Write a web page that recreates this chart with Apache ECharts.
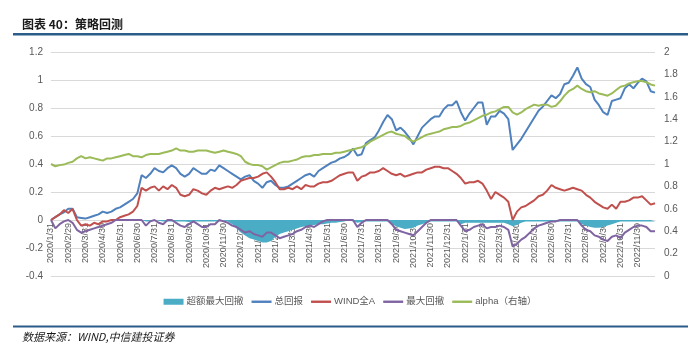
<!DOCTYPE html>
<html>
<head>
<meta charset="utf-8">
<script src="https://cdn.jsdelivr.net/npm/echarts@6/dist/echarts.min.js"></script>
<style>
html,body{margin:0;padding:0;background:#fff;}
#chart{width:700px;height:355px;}
</style>
</head>
<body>
<div id="chart"></div>
<script>
// Month-end tick labels
const monthLabels = [
  '2020/1/31','2020/2/29','2020/3/31','2020/4/30','2020/5/31','2020/6/30','2020/7/31','2020/8/31','2020/9/30','2020/10/31','2020/11/30','2020/12/31',
  '2021/1/31','2021/2/28','2021/3/31','2021/4/30','2021/5/31','2021/6/30','2021/7/31','2021/8/31','2021/9/30','2021/10/31','2021/11/30','2021/12/31',
  '2022/1/31','2022/2/28','2022/3/31','2022/4/30','2022/5/31','2022/6/30','2022/7/31','2022/8/31','2022/9/30','2022/10/31','2022/11/30'
];

// 总回报 (left axis)
const totalReturn = [
  0.00,0.02,0.04,0.055,0.08,0.08,0.02,0.015,0.01,0.02,0.03,0.04,
  0.06,0.05,0.06,0.08,0.09,0.11,0.13,0.15,0.19,0.32,0.30,0.33,
  0.37,0.35,0.34,0.37,0.39,0.37,0.33,0.31,0.33,0.37,0.35,0.33,
  0.33,0.36,0.35,0.39,0.37,0.35,0.33,0.31,0.29,0.31,0.32,0.28,
  0.26,0.23,0.27,0.28,0.25,0.23,0.23,0.24,0.26,0.28,0.30,0.32,
  0.33,0.31,0.35,0.37,0.39,0.41,0.42,0.44,0.45,0.47,0.51,0.46,
  0.47,0.55,0.57,0.59,0.64,0.70,0.75,0.72,0.64,0.66,0.63,0.59,
  0.54,0.60,0.66,0.69,0.72,0.74,0.74,0.79,0.82,0.82,0.85,0.77,
  0.71,0.76,0.80,0.84,0.84,0.68,0.74,0.74,0.78,0.76,0.72,0.50,
  0.54,0.58,0.63,0.68,0.73,0.78,0.81,0.85,0.89,0.87,0.90,0.97,
  0.98,1.03,1.09,1.01,0.97,0.95,0.86,0.82,0.77,0.75,0.85,0.86,
  0.87,0.94,0.97,0.94,0.98,1.01,0.99,0.92,0.91
];

// WIND全A (left axis)
const windA = [
  0.00,0.02,0.04,0.07,0.05,0.08,0.00,-0.04,-0.03,-0.04,-0.02,-0.03,
  -0.01,-0.01,0.00,0.00,0.02,0.03,0.04,0.06,0.10,0.23,0.21,0.23,
  0.24,0.21,0.24,0.22,0.25,0.23,0.18,0.17,0.18,0.22,0.21,0.19,
  0.18,0.21,0.23,0.22,0.23,0.24,0.23,0.25,0.28,0.29,0.30,0.30,
  0.31,0.33,0.34,0.31,0.27,0.22,0.22,0.23,0.22,0.24,0.22,0.25,
  0.24,0.24,0.26,0.27,0.27,0.28,0.30,0.32,0.33,0.34,0.34,0.28,
  0.31,0.32,0.34,0.34,0.35,0.37,0.35,0.33,0.32,0.33,0.31,0.32,
  0.33,0.34,0.34,0.36,0.37,0.38,0.38,0.37,0.37,0.35,0.33,0.30,
  0.26,0.27,0.27,0.28,0.26,0.21,0.15,0.20,0.18,0.16,0.13,0.00,
  0.06,0.09,0.10,0.12,0.14,0.17,0.18,0.21,0.25,0.23,0.22,0.21,
  0.22,0.23,0.22,0.21,0.18,0.16,0.13,0.11,0.09,0.08,0.11,0.08,
  0.13,0.13,0.14,0.16,0.16,0.17,0.14,0.11,0.12
];

// 最大回撤 (left axis)
const maxDrawdown = [
  0.00,-0.06,-0.03,-0.01,0.00,-0.02,-0.07,-0.09,-0.08,-0.07,-0.06,-0.05,
  -0.04,-0.03,-0.02,0.00,0.00,0.00,0.00,0.00,0.00,0.00,-0.04,-0.01,
  0.00,-0.02,-0.03,0.00,0.00,-0.02,-0.04,-0.05,-0.03,-0.01,-0.03,-0.05,
  -0.05,-0.03,-0.03,0.00,-0.01,-0.02,-0.04,-0.05,-0.07,-0.09,-0.08,-0.10,
  -0.11,-0.12,-0.09,-0.09,-0.11,-0.13,-0.12,-0.11,-0.10,-0.08,-0.07,-0.05,
  -0.04,-0.05,-0.03,-0.01,0.00,0.00,0.00,0.00,0.00,0.00,0.00,-0.05,
  -0.02,0.00,0.00,0.00,0.00,0.00,0.00,-0.03,-0.07,-0.08,-0.09,-0.10,
  -0.11,-0.08,-0.05,-0.02,0.00,0.00,0.00,0.00,0.00,0.00,0.00,-0.04,
  -0.08,-0.07,-0.05,-0.04,-0.03,-0.06,-0.05,-0.05,-0.04,-0.05,-0.07,-0.19,
  -0.17,-0.14,-0.12,-0.09,-0.06,-0.04,-0.03,-0.02,-0.01,-0.01,0.00,0.00,
  0.00,0.00,0.00,-0.04,-0.07,-0.08,-0.11,-0.12,-0.14,-0.15,-0.12,-0.11,
  -0.13,-0.09,-0.07,-0.05,-0.04,-0.04,-0.05,-0.08,-0.08
];

// 超额最大回撤 (left axis, area)
const excessDrawdown = [
  0,0,0,0,0,0,0,0,0,0,0,0,
  0,0,0,0,0,0,0,0,0,0,-0.01,-0.01,
  0,-0.005,-0.01,-0.01,-0.01,-0.01,-0.01,-0.01,-0.015,-0.01,-0.01,-0.01,
  -0.01,-0.01,-0.01,-0.01,-0.005,-0.01,-0.03,-0.06,-0.09,-0.11,-0.13,-0.14,
  -0.15,-0.16,-0.16,-0.15,-0.12,-0.10,-0.09,-0.08,-0.07,-0.06,-0.05,-0.045,
  -0.04,-0.035,-0.03,-0.03,-0.025,-0.02,-0.02,-0.015,-0.01,0,-0.01,-0.02,
  -0.015,-0.01,-0.01,-0.01,-0.01,-0.01,-0.01,-0.03,-0.045,-0.055,-0.065,-0.06,
  -0.055,-0.04,-0.03,-0.02,-0.01,-0.01,-0.01,-0.01,-0.01,-0.01,-0.01,-0.03,
  -0.02,-0.02,-0.02,-0.02,-0.02,-0.02,-0.02,-0.02,-0.02,-0.02,-0.03,-0.045,
  -0.035,-0.02,-0.01,-0.01,-0.01,-0.01,-0.01,-0.01,-0.01,-0.01,-0.01,-0.01,
  -0.01,-0.01,-0.01,-0.03,-0.04,-0.05,-0.055,-0.055,-0.05,-0.04,-0.03,-0.02,
  -0.01,-0.01,-0.01,-0.01,-0.01,-0.01,-0.01,-0.01,-0.01
];

// alpha (right axis)
const alpha = [
  1.00,0.98,0.99,0.995,1.01,1.02,1.05,1.07,1.05,1.06,1.05,1.04,
  1.03,1.05,1.05,1.06,1.07,1.08,1.09,1.07,1.07,1.06,1.08,1.09,
  1.09,1.09,1.10,1.11,1.12,1.14,1.12,1.12,1.11,1.11,1.12,1.12,
  1.12,1.11,1.10,1.11,1.12,1.11,1.10,1.09,1.07,1.02,1.00,0.99,
  0.99,0.98,0.95,0.97,0.99,1.01,1.02,1.02,1.03,1.04,1.06,1.07,
  1.07,1.08,1.08,1.09,1.09,1.09,1.10,1.10,1.11,1.12,1.13,1.14,
  1.15,1.17,1.20,1.22,1.24,1.26,1.28,1.29,1.27,1.26,1.25,1.22,
  1.20,1.22,1.24,1.26,1.27,1.28,1.29,1.31,1.32,1.33,1.33,1.34,
  1.36,1.37,1.39,1.41,1.43,1.44,1.46,1.47,1.49,1.51,1.51,1.46,
  1.44,1.46,1.49,1.51,1.53,1.52,1.53,1.53,1.51,1.52,1.56,1.61,
  1.65,1.67,1.70,1.67,1.65,1.64,1.65,1.63,1.62,1.61,1.63,1.66,
  1.69,1.70,1.72,1.73,1.74,1.74,1.73,1.71,1.70
];

// build weekly categories between month-end labels
function fmt(d){ return d.getFullYear() + '/' + (d.getMonth() + 1) + '/' + d.getDate(); }
const categories = [];
monthLabels.forEach(function (lab, k) {
  categories.push(lab);
  const p = lab.split('/').map(Number);
  const steps = (k === monthLabels.length - 1) ? 4 : 3;
  for (let j = 1; j <= steps; j++) {
    categories.push(fmt(new Date(p[0], p[1] - 1, p[2] + 7 * j)));
  }
});

const FONT = '"Liberation Sans", Arial, "Noto Sans CJK SC", sans-serif';
const chart = echarts.init(document.getElementById('chart'), null, {renderer: 'canvas'});
const lineIcon = 'path://M0,0H20V2.4H0Z';

// grid geometry: plot height 224px spans -0.4..1.2, so zero line sits 56px above the bottom
const GRID_TOP = 52, GRID_BOTTOM = 79, PLOT_H = 355 - GRID_TOP - GRID_BOTTOM;
const Y_MIN = -0.4, Y_MAX = 1.2;
const zeroOffset = -PLOT_H * (0 - Y_MIN) / (Y_MAX - Y_MIN);

chart.setOption({
  animation: false,
  textStyle: {fontFamily: FONT},
  grid: {left: 51, right: 45, top: GRID_TOP, bottom: GRID_BOTTOM, containLabel: false},
  legend: {
    left: 'center', top: 292, itemWidth: 20, itemHeight: 6, itemGap: 8,
    symbolKeepAspect: true,
    textStyle: {fontSize: 9.5, color: '#595959', fontFamily: FONT, padding: [0, 0, 0, -2]},
    data: [
      {name: '超额最大回撤', icon: 'rect'},
      {name: '总回报', icon: lineIcon},
      {name: 'WIND全A', icon: lineIcon},
      {name: '最大回撤', icon: lineIcon},
      {name: 'alpha（右轴）', icon: lineIcon}
    ]
  },
  xAxis: {
    type: 'category', data: categories, boundaryGap: false,
    offset: zeroOffset,
    axisLine: {onZero: false, lineStyle: {color: '#D9D9D9'}},
    axisTick: {show: false},
    splitLine: {show: false},
    axisLabel: {
      rotate: 90, fontSize: 9, color: '#595959', margin: 3, fontFamily: FONT,
      interval: function (idx) { return idx % 4 === 0 && idx / 4 < monthLabels.length; }
    }
  },
  yAxis: [
    {
      type: 'value', min: Y_MIN, max: Y_MAX, interval: 0.2,
      axisLine: {show: false}, axisTick: {show: false},
      splitLine: {lineStyle: {color: '#D9D9D9'}},
      axisLabel: {fontSize: 10, color: '#595959', margin: 8, fontFamily: FONT}
    },
    {
      type: 'value', min: 0, max: 2, interval: 0.2, position: 'right',
      axisLine: {show: false}, axisTick: {show: false},
      splitLine: {show: false},
      axisLabel: {fontSize: 10, color: '#595959', margin: 9, fontFamily: FONT}
    }
  ],
  series: [
    {
      name: '超额最大回撤', type: 'line', data: excessDrawdown, yAxisIndex: 0,
      symbol: 'none', lineStyle: {width: 0}, itemStyle: {color: '#4BACC6'},
      areaStyle: {color: '#4BACC6', opacity: 1}
    },
    {
      name: '总回报', type: 'line', data: totalReturn, yAxisIndex: 0,
      symbol: 'none', lineStyle: {width: 2, color: '#4F81BD'}, itemStyle: {color: '#4F81BD'}
    },
    {
      name: 'WIND全A', type: 'line', data: windA, yAxisIndex: 0,
      symbol: 'none', lineStyle: {width: 2, color: '#C0504D'}, itemStyle: {color: '#C0504D'}
    },
    {
      name: '最大回撤', type: 'line', data: maxDrawdown, yAxisIndex: 0,
      symbol: 'none', lineStyle: {width: 2, color: '#8064A2'}, itemStyle: {color: '#8064A2'}
    },
    {
      name: 'alpha（右轴）', type: 'line', data: alpha, yAxisIndex: 1,
      symbol: 'none', lineStyle: {width: 2, color: '#9BBB59'}, itemStyle: {color: '#9BBB59'}
    }
  ],
  graphic: [
    {type: 'text', left: 22, top: 18, style: {text: '图表 40：策略回测', font: 'bold 12px "Noto Sans CJK SC", sans-serif', fill: '#1a1a1a'}},
    {type: 'rect', shape: {x: 13, y: 33, width: 675, height: 2.5}, style: {fill: '#2B5C8A'}},
    {type: 'rect', shape: {x: 13, y: 325.5, width: 675, height: 2}, style: {fill: '#2B5C8A'}},
    {type: 'text', left: 22, top: 331, style: {text: '数据来源：WIND,中信建投证券', font: 'italic 11px "Noto Sans CJK SC", sans-serif', fill: '#1a1a1a'}}
  ]
});
</script>
</body>
</html>
